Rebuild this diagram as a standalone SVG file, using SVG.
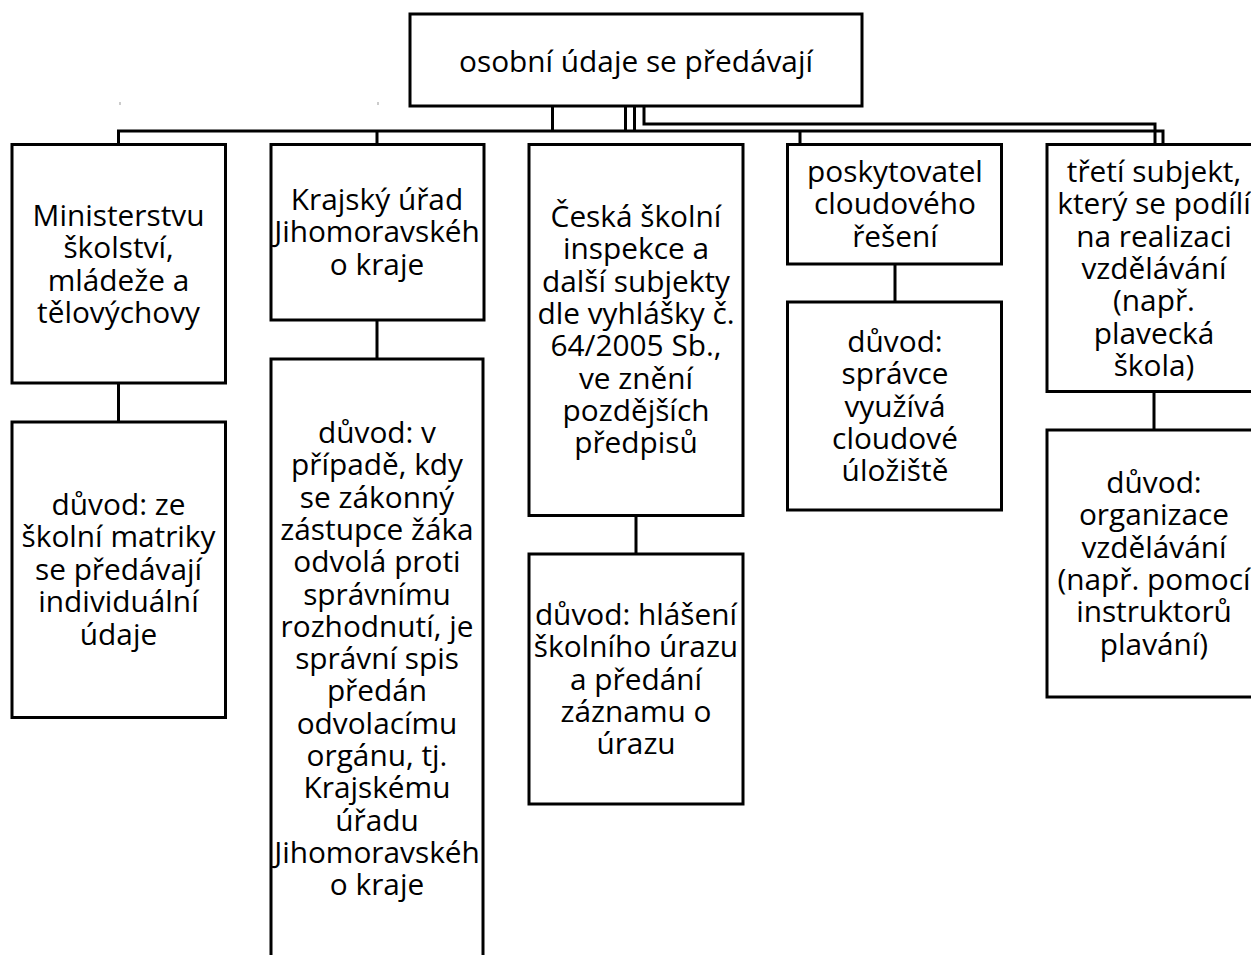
<svg xmlns="http://www.w3.org/2000/svg" width="1251" height="955" viewBox="0 0 1251 955">
<style>
.box{fill:#fff;stroke:#000;stroke-width:3}
.con{fill:none;stroke:#000;stroke-width:3}
.t{font-family:"Open Sans","DejaVu Sans",sans-serif;font-size:29.8px;fill:#000;text-anchor:middle}
</style>
<rect width="1251" height="955" fill="#fff"/>
<g id="connectors">
<path class="con" d="M552.5 106V131M625.5 106V131M634.5 106V131M644 106V124H1155V144M118.5 144V131H1163V144M377 131V144M800 131V144"/>
<path class="con" d="M118.5 383V422M377 320V359M636 515V554M895 264V302M1154 391V430"/>
<path d="M120 102V105M378 102V105" stroke="#999" stroke-width="1"/>
</g>
<g id="n0"><rect class="box" x="410" y="14" width="452" height="92"/><text class="t" x="636" y="72">osobní údaje se předávají</text></g>
<g id="n1"><rect class="box" x="12" y="144.5" width="213.5" height="238.5"/><text class="t" x="118.5" y="226"><tspan x="118.5">Ministerstvu</tspan><tspan x="118.5" dy="32.4">školství,</tspan><tspan x="118.5" dy="32.4">mládeže a</tspan><tspan x="118.5" dy="32.4">tělovýchovy</tspan></text></g>
<g id="n1b"><rect class="box" x="12" y="422" width="213.5" height="295.5"/><text class="t" x="118.5" y="515"><tspan x="118.5">důvod: ze</tspan><tspan x="118.5" dy="32.4">školní matriky</tspan><tspan x="118.5" dy="32.4">se předávají</tspan><tspan x="118.5" dy="32.4">individuální</tspan><tspan x="118.5" dy="32.4">údaje</tspan></text></g>
<g id="n2"><rect class="box" x="271" y="144.5" width="213" height="175.5"/><text class="t" x="377" y="210"><tspan x="377">Krajský úřad</tspan><tspan x="377" dy="32.4">Jihomoravskéh</tspan><tspan x="377" dy="32.4">o kraje</tspan></text></g>
<g id="n2b"><rect class="box" x="271" y="359" width="212" height="600"/><text class="t" x="377" y="443"><tspan x="377">důvod: v</tspan><tspan x="377" dy="32.3">případě, kdy</tspan><tspan x="377" dy="32.3">se zákonný</tspan><tspan x="377" dy="32.3">zástupce žáka</tspan><tspan x="377" dy="32.3">odvolá proti</tspan><tspan x="377" dy="32.3">správnímu</tspan><tspan x="377" dy="32.3">rozhodnutí, je</tspan><tspan x="377" dy="32.3">správní spis</tspan><tspan x="377" dy="32.3">předán</tspan><tspan x="377" dy="32.3">odvolacímu</tspan><tspan x="377" dy="32.3">orgánu, tj.</tspan><tspan x="377" dy="32.3">Krajskému</tspan><tspan x="377" dy="32.3">úřadu</tspan><tspan x="377" dy="32.3">Jihomoravskéh</tspan><tspan x="377" dy="32.3">o kraje</tspan></text></g>
<g id="n3"><rect class="box" x="529" y="144.5" width="214" height="371"/><text class="t" x="636" y="227"><tspan x="636">Česká školní</tspan><tspan x="636" dy="32.3">inspekce a</tspan><tspan x="636" dy="32.3">další subjekty</tspan><tspan x="636" dy="32.3">dle vyhlášky č.</tspan><tspan x="636" dy="32.3">64/2005 Sb.,</tspan><tspan x="636" dy="32.3">ve znění</tspan><tspan x="636" dy="32.3">pozdějších</tspan><tspan x="636" dy="32.3">předpisů</tspan></text></g>
<g id="n3b"><rect class="box" x="529" y="554" width="214" height="250"/><text class="t" x="636" y="625"><tspan x="636">důvod: hlášení</tspan><tspan x="636" dy="32.3">školního úrazu</tspan><tspan x="636" dy="32.3">a předání</tspan><tspan x="636" dy="32.3">záznamu o</tspan><tspan x="636" dy="32.3">úrazu</tspan></text></g>
<g id="n4"><rect class="box" x="787.5" y="144.5" width="214" height="119.5"/><text class="t" x="895" y="182"><tspan x="895">poskytovatel</tspan><tspan x="895" dy="32.4">cloudového</tspan><tspan x="895" dy="32.4">řešení</tspan></text></g>
<g id="n4b"><rect class="box" x="787.5" y="302" width="214" height="208"/><text class="t" x="895" y="352"><tspan x="895">důvod:</tspan><tspan x="895" dy="32.3">správce</tspan><tspan x="895" dy="32.3">využívá</tspan><tspan x="895" dy="32.3">cloudové</tspan><tspan x="895" dy="32.3">úložiště</tspan></text></g>
<g id="n5"><rect class="box" x="1047" y="144.5" width="214" height="247"/><text class="t" x="1154" y="182"><tspan x="1154">třetí subjekt,</tspan><tspan x="1154" dy="32.3">který se podílí</tspan><tspan x="1154" dy="32.3">na realizaci</tspan><tspan x="1154" dy="32.3">vzdělávání</tspan><tspan x="1154" dy="32.3">(např.</tspan><tspan x="1154" dy="32.3">plavecká</tspan><tspan x="1154" dy="32.3">škola)</tspan></text></g>
<g id="n5b"><rect class="box" x="1047" y="430" width="214" height="267"/><text class="t" x="1154" y="493"><tspan x="1154">důvod:</tspan><tspan x="1154" dy="32.3">organizace</tspan><tspan x="1154" dy="32.3">vzdělávání</tspan><tspan x="1154" dy="32.3">(např. pomocí</tspan><tspan x="1154" dy="32.3">instruktorů</tspan><tspan x="1154" dy="32.3">plavání)</tspan></text></g>
</svg>
